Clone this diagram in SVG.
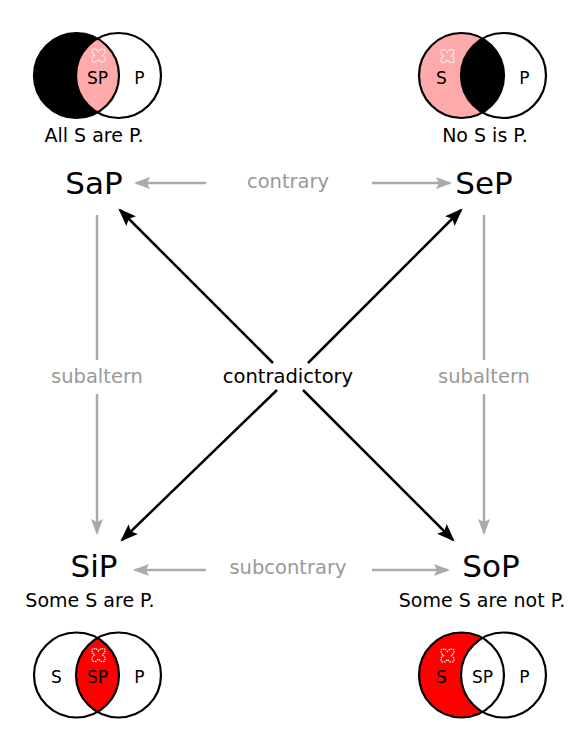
<svg xmlns="http://www.w3.org/2000/svg" width="579" height="750" viewBox="0 0 579 750">
<defs>
<style>
text{font-family:"DejaVu Sans","Liberation Sans",sans-serif;text-anchor:middle}
.big{font-size:31px;fill:#000}
.cap{font-size:19px;fill:#000}
.lbl{font-size:19.5px;fill:#999}
.blk{font-size:19.5px;fill:#000}
.v{font-size:17px;fill:#000}
.ring{fill:none;stroke:#000;stroke-width:2.2}
.g{stroke:#aaa;stroke-width:2.5;fill:none}
.k{stroke:#000;stroke-width:2.5;fill:none}
.x{fill:none;stroke:#fff;stroke-width:1.3;stroke-dasharray:1.5 1}
</style>
<marker id="ag" viewBox="0 0 16 12" markerWidth="16" markerHeight="12" refX="14" refY="6" orient="auto" markerUnits="userSpaceOnUse">
<path d="M0,0 L16,6 L0,12 L3,6 Z" fill="#aaa"/>
</marker>
<marker id="ak" viewBox="0 0 16 12" markerWidth="18" markerHeight="13.5" refX="14" refY="6" orient="auto-start-reverse" markerUnits="userSpaceOnUse">
<path d="M0,0 L16,6 L0,12 L3,6 Z" fill="#000"/>
</marker>
<clipPath id="cL"><circle cx="0" cy="0" r="42.5"/></clipPath>
<path id="xm" class="x" d="M-2.4,-6.4 L0,-4 L2.4,-6.4 L5.6,-6.4 L6.4,-5.6 L6.4,-2.4 L4,0 L6.4,2.4 L6.4,5.6 L5.6,6.4 L2.4,6.4 L0,4 L-2.4,6.4 L-5.6,6.4 L-6.4,5.6 L-6.4,2.4 L-4,0 L-6.4,-2.4 L-6.4,-5.6 L-5.6,-6.4 Z"/>
</defs>
<rect width="579" height="750" fill="#fff"/>

<g id="venn-a" transform="translate(76.5,75.5)">
<circle cx="0" cy="0" r="42.5" fill="#000"/>
<circle cx="42" cy="0" r="42.5" fill="#ffaaaa" clip-path="url(#cL)"/>
<circle class="ring" cx="0" cy="0" r="42.5"/>
<circle class="ring" cx="42" cy="0" r="42.5"/>
<use href="#xm" x="22" y="-20"/>
<text class="v" x="21" y="8">SP</text>
<text class="v" x="63" y="8">P</text>
</g>
<g id="venn-e" transform="translate(461.5,75.5)">
<circle cx="0" cy="0" r="42.5" fill="#ffaaaa"/>
<circle cx="42" cy="0" r="42.5" fill="#000" clip-path="url(#cL)"/>
<circle class="ring" cx="0" cy="0" r="42.5"/>
<circle class="ring" cx="42" cy="0" r="42.5"/>
<use href="#xm" x="-14" y="-19.5"/>
<text class="v" x="-20" y="8">S</text>
<text class="v" x="63" y="8">P</text>
</g>
<g id="venn-i" transform="translate(76.5,675)">
<circle cx="42" cy="0" r="42.5" fill="#ff0000" clip-path="url(#cL)"/>
<circle class="ring" cx="0" cy="0" r="42.5"/>
<circle class="ring" cx="42" cy="0" r="42.5"/>
<use href="#xm" x="22" y="-20"/>
<text class="v" x="-20" y="8">S</text>
<text class="v" x="21" y="8">SP</text>
<text class="v" x="63" y="8">P</text>
</g>
<g id="venn-o" transform="translate(461.5,675)">
<circle cx="0" cy="0" r="42.5" fill="#ff0000"/>
<circle cx="42" cy="0" r="42.5" fill="#fff" clip-path="url(#cL)"/>
<circle class="ring" cx="0" cy="0" r="42.5"/>
<circle class="ring" cx="42" cy="0" r="42.5"/>
<use href="#xm" x="-14" y="-19.5"/>
<text class="v" x="-20" y="8">S</text>
<text class="v" x="21" y="8">SP</text>
<text class="v" x="63" y="8">P</text>
</g>

<g id="SaP"><text class="big" x="94" y="194">SaP</text><text class="cap" x="94" y="142">All S are P.</text></g>
<g id="SeP"><text class="big" x="484" y="194">SeP</text><text class="cap" x="485" y="142">No S is P.</text></g>
<g id="SiP"><text class="big" x="94" y="577">SiP</text><text class="cap" x="90" y="607">Some S are P.</text></g>
<g id="SoP"><text class="big" x="491" y="577">SoP</text><text class="cap" x="482" y="607">Some S are not P.</text></g>

<g id="connectors">
<path class="g" d="M206,183 H136" marker-end="url(#ag)"/>
<path class="g" d="M372,183 H450" marker-end="url(#ag)"/>
<path class="g" d="M206,570 H135" marker-end="url(#ag)"/>
<path class="g" d="M372,570 H448" marker-end="url(#ag)"/>
<path class="g" d="M97,215 V360"/>
<path class="g" d="M97,394 V533" marker-end="url(#ag)"/>
<path class="g" d="M484,215 V360"/>
<path class="g" d="M484,394 V533" marker-end="url(#ag)"/>
<path class="k" d="M120,210 L273,363" marker-start="url(#ak)"/>
<path class="k" d="M303,390 L453,540" marker-end="url(#ak)"/>
<path class="k" d="M461,210 L308,363" marker-start="url(#ak)"/>
<path class="k" d="M277,390 L122,540" marker-end="url(#ak)"/>
<text class="lbl" x="288" y="188">contrary</text>
<text class="lbl" x="288" y="574">subcontrary</text>
<text class="lbl" x="97" y="383">subaltern</text>
<text class="lbl" x="484" y="383">subaltern</text>
<text class="blk" x="288" y="383">contradictory</text>
</g>
</svg>
